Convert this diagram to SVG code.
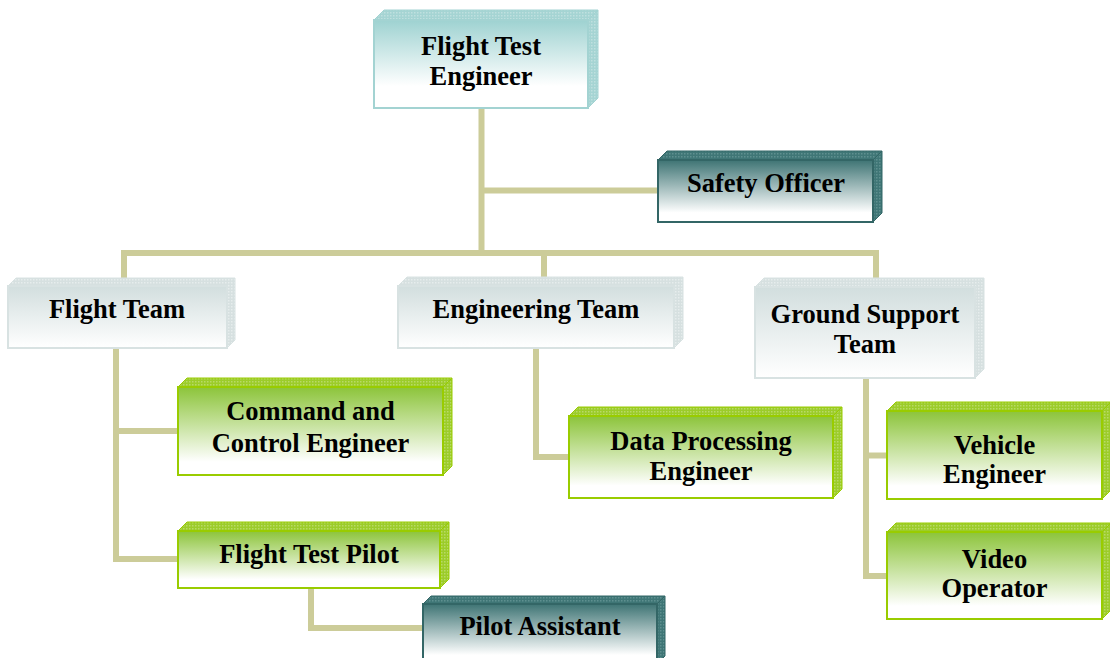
<svg xmlns="http://www.w3.org/2000/svg" width="1110" height="658" viewBox="0 0 1110 658">
  <defs>
    <!-- front-face fills: tinted at top, fading to white -->
    <linearGradient id="gTeal" x1="0" y1="0" x2="0" y2="1">
      <stop offset="0" stop-color="#9ed2d1"/>
      <stop offset="0.75" stop-color="#ffffff"/>
    </linearGradient>
    <linearGradient id="gDark" x1="0" y1="0" x2="0" y2="1">
      <stop offset="0" stop-color="#3e7474"/>
      <stop offset="0.85" stop-color="#ffffff"/>
    </linearGradient>
    <linearGradient id="gGray" x1="0" y1="0" x2="0" y2="1">
      <stop offset="0" stop-color="#d2dede"/>
      <stop offset="1" stop-color="#ffffff"/>
    </linearGradient>
    <linearGradient id="gGreen" x1="0" y1="0" x2="0" y2="1">
      <stop offset="0" stop-color="#8cc43a"/>
      <stop offset="0.85" stop-color="#ffffff"/>
    </linearGradient>
    <!-- fine mesh texture for the bevel faces -->
    <pattern id="pTeal" width="3" height="3" patternUnits="userSpaceOnUse">
      <rect width="3" height="3" fill="#a5d4d3"/>
      <rect width="1.5" height="1.5" fill="#bfe0df"/>
    </pattern>
    <pattern id="pDark" width="3" height="3" patternUnits="userSpaceOnUse">
      <rect width="3" height="3" fill="#3f7676"/>
      <rect width="1.5" height="1.5" fill="#5e8f8f"/>
    </pattern>
    <pattern id="pGray" width="3" height="3" patternUnits="userSpaceOnUse">
      <rect width="3" height="3" fill="#d6e0e0"/>
      <rect width="1.5" height="1.5" fill="#e6eded"/>
    </pattern>
    <pattern id="pGreen" width="3" height="3" patternUnits="userSpaceOnUse">
      <rect width="3" height="3" fill="#9ccc2a"/>
      <rect width="1.5" height="1.5" fill="#b8da66"/>
    </pattern>
  </defs>
  <style>
    .link { fill: none; stroke: #cccc99; stroke-width: 6; stroke-linejoin: miter; }
    .lbl { font-family: "Liberation Serif", "Times New Roman", serif; font-weight: bold; font-size: 26.5px; fill: #000; text-anchor: middle; }
    .teal .front { fill: url(#gTeal); stroke: #a3d3d2; stroke-width: 2; }
    .teal .bevel { fill: url(#pTeal); stroke: #a3d3d2; stroke-width: 1; }
    .dark .front { fill: url(#gDark); stroke: #336666; stroke-width: 2; }
    .dark .bevel { fill: url(#pDark); stroke: #336666; stroke-width: 1; }
    .gray .front { fill: url(#gGray); stroke: #d8e2e2; stroke-width: 2; }
    .gray .bevel { fill: url(#pGray); stroke: #d8e2e2; stroke-width: 1; }
    .green .front { fill: url(#gGreen); stroke: #99cc00; stroke-width: 2; }
    .green .bevel { fill: url(#pGreen); stroke: #99cc00; stroke-width: 1; }
  </style>

  <rect width="1110" height="658" fill="#ffffff"/>

  <!-- connectors -->
  <g id="connectors">
    <path class="link" d="M481.5,108 V253"/>
    <path class="link" d="M481.5,190.5 H658"/>
    <path class="link" d="M124,278 V253 H876 V278"/>
    <path class="link" d="M544,253 V278"/>
    <path class="link" d="M116,348 V559 H178"/>
    <path class="link" d="M116,431 H178"/>
    <path class="link" d="M536,348 V457 H569"/>
    <path class="link" d="M866,378 V576 H887"/>
    <path class="link" d="M866,455.5 H887"/>
    <path class="link" d="M311,588 V628 H423"/>
  </g>

  <!-- Flight Test Engineer -->
  <g id="flight-test-engineer" class="teal">
    <polygon class="bevel" points="374,20 384,10 598,10 588,20"/>
    <polygon class="bevel" points="588,20 598,10 598,98 588,108"/>
    <rect class="front" x="374" y="20" width="214" height="88"/>
    <text class="lbl" x="481" y="55">Flight Test</text>
    <text class="lbl" x="481" y="85">Engineer</text>
  </g>

  <!-- Safety Officer -->
  <g id="safety-officer" class="dark">
    <polygon class="bevel" points="658,160 667,151 882,151 873,160"/>
    <polygon class="bevel" points="873,160 882,151 882,213 873,222"/>
    <rect class="front" x="658" y="160" width="215" height="62"/>
    <text class="lbl" x="766" y="192">Safety Officer</text>
  </g>

  <!-- Flight Team -->
  <g id="flight-team" class="gray">
    <polygon class="bevel" points="8,286 16,278 235,278 227,286"/>
    <polygon class="bevel" points="227,286 235,278 235,340 227,348"/>
    <rect class="front" x="8" y="286" width="219" height="62"/>
    <text class="lbl" x="117" y="318">Flight Team</text>
  </g>

  <!-- Engineering Team -->
  <g id="engineering-team" class="gray">
    <polygon class="bevel" points="398,286 407,277 683,277 674,286"/>
    <polygon class="bevel" points="674,286 683,277 683,339 674,348"/>
    <rect class="front" x="398" y="286" width="276" height="62"/>
    <text class="lbl" x="536" y="318">Engineering Team</text>
  </g>

  <!-- Ground Support Team -->
  <g id="ground-support-team" class="gray">
    <polygon class="bevel" points="755,287 764,278 984,278 975,287"/>
    <polygon class="bevel" points="975,287 984,278 984,369 975,378"/>
    <rect class="front" x="755" y="287" width="220" height="91"/>
    <text class="lbl" x="865" y="323">Ground Support</text>
    <text class="lbl" x="865" y="353">Team</text>
  </g>

  <!-- Command and Control Engineer -->
  <g id="command-control-engineer" class="green">
    <polygon class="bevel" points="178,387 187,378 452,378 443,387"/>
    <polygon class="bevel" points="443,387 452,378 452,466 443,475"/>
    <rect class="front" x="178" y="387" width="265" height="88"/>
    <text class="lbl" x="310.5" y="420">Command and</text>
    <text class="lbl" x="310.5" y="452">Control Engineer</text>
  </g>

  <!-- Data Processing Engineer -->
  <g id="data-processing-engineer" class="green">
    <polygon class="bevel" points="569,416 578,407 842,407 833,416"/>
    <polygon class="bevel" points="833,416 842,407 842,489 833,498"/>
    <rect class="front" x="569" y="416" width="264" height="82"/>
    <text class="lbl" x="701" y="450">Data Processing</text>
    <text class="lbl" x="701" y="480">Engineer</text>
  </g>

  <!-- Flight Test Pilot -->
  <g id="flight-test-pilot" class="green">
    <polygon class="bevel" points="178,531 187,522 449,522 440,531"/>
    <polygon class="bevel" points="440,531 449,522 449,579 440,588"/>
    <rect class="front" x="178" y="531" width="262" height="57"/>
    <text class="lbl" x="309" y="563">Flight Test Pilot</text>
  </g>

  <!-- Pilot Assistant -->
  <g id="pilot-assistant" class="dark">
    <polygon class="bevel" points="423,604 431,596 665,596 657,604"/>
    <polygon class="bevel" points="657,604 665,596 665,656 657,664"/>
    <rect class="front" x="423" y="604" width="234" height="60"/>
    <text class="lbl" x="540" y="635">Pilot Assistant</text>
  </g>

  <!-- Vehicle Engineer -->
  <g id="vehicle-engineer" class="green">
    <polygon class="bevel" points="887,411 896,402 1111,402 1102,411"/>
    <polygon class="bevel" points="1102,411 1111,402 1111,490 1102,499"/>
    <rect class="front" x="887" y="411" width="215" height="88"/>
    <text class="lbl" x="994.5" y="454">Vehicle</text>
    <text class="lbl" x="994.5" y="483">Engineer</text>
  </g>

  <!-- Video Operator -->
  <g id="video-operator" class="green">
    <polygon class="bevel" points="887,532 896,523 1111,523 1102,532"/>
    <polygon class="bevel" points="1102,532 1111,523 1111,610 1102,619"/>
    <rect class="front" x="887" y="532" width="215" height="87"/>
    <text class="lbl" x="994.5" y="568">Video</text>
    <text class="lbl" x="994.5" y="597">Operator</text>
  </g>
</svg>
